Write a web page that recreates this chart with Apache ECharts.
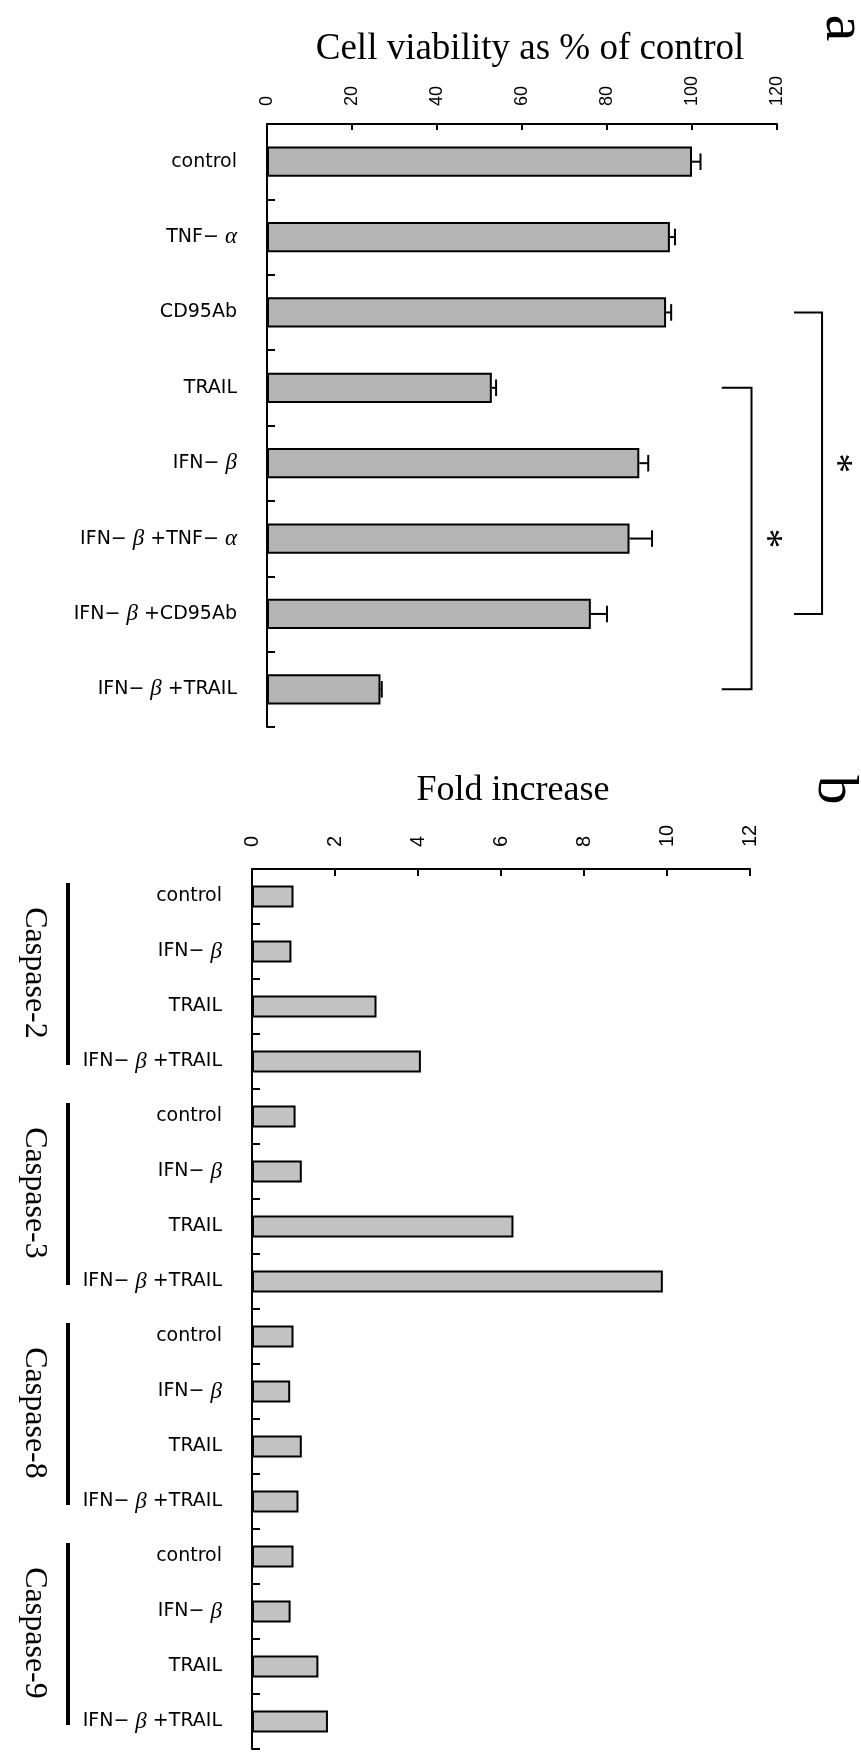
<!DOCTYPE html>
<html><head><meta charset="utf-8">
<script src="https://cdn.jsdelivr.net/npm/echarts@6/dist/echarts.min.js"></script>
<style>html,body{margin:0;padding:0;background:#fff}#c{width:861px;height:1757px}</style>
</head><body><div id="c"></div>
<script>
// ---- Panel a data ----
const aCategories = ['control', 'TNF− α', 'CD95Ab', 'TRAIL', 'IFN− β', 'IFN− β +TNF− α', 'IFN− β +CD95Ab', 'IFN− β +TRAIL'];
const aViability = [100, 94.8, 93.9, 52.9, 87.6, 85.3, 76.2, 26.7];
const aError = [2.0, 1.2, 1.2, 1.0, 2.1, 5.3, 3.8, 0.3];
const aTicks = [0, 20, 40, 60, 80, 100, 120];
// brackets: [x start, x end, first row, last row, star x]
const aBrackets = [[124, 130.6, 2, 6, 134], [107, 114, 3, 7, 117.5]];

// ---- Panel b data ----
const bCategories = ['control', 'IFN− β', 'TRAIL', 'IFN− β +TRAIL',
                     'control', 'IFN− β', 'TRAIL', 'IFN− β +TRAIL',
                     'control', 'IFN− β', 'TRAIL', 'IFN− β +TRAIL',
                     'control', 'IFN− β', 'TRAIL', 'IFN− β +TRAIL'];
const bFold = [1.0, 0.95, 3.0, 4.07,
               1.05, 1.2, 6.3, 9.9,
               1.0, 0.92, 1.2, 1.12,
               1.0, 0.93, 1.6, 1.83];
const bTicks = [0, 2, 4, 6, 8, 10, 12];
const bGroups = ['Caspase-2', 'Caspase-3', 'Caspase-8', 'Caspase-9'];
const bGroupRows = [[0, 3], [4, 7], [8, 11], [12, 15]];

const SANS = '"Liberation Sans", Arial, sans-serif';
const LABEL = '"DejaVu Sans", sans-serif';
const SERIF = '"Liberation Serif", "Times New Roman", serif';

function catFormatter(v) {
  return v.replace(/([αβ])/g, '{g|$1}');
}
const catLabel = {
  color: '#000', fontFamily: LABEL, fontSize: 19, margin: 30,
  formatter: catFormatter,
  rich: { g: { fontFamily: SERIF, fontStyle: 'italic', fontSize: 23, color: '#000' } }
};

function renderErr(params, api) {
  const v = api.value(0), c = api.value(1), e = api.value(2);
  const p1 = api.coord([v, c]);
  const p2 = api.coord([v + e, c]);
  const h = api.size([0, 1])[1] * 0.11;
  return { type: 'group', children: [
    { type: 'line', shape: { x1: p1[0], y1: p1[1], x2: p2[0], y2: p2[1] }, style: { stroke: '#000', lineWidth: 2 } },
    { type: 'line', shape: { x1: p2[0], y1: p2[1] - h, x2: p2[0], y2: p2[1] + h }, style: { stroke: '#000', lineWidth: 2 } }
  ]};
}

function renderBracket(params, api) {
  const x1 = api.value(0), x2 = api.value(1), r1 = api.value(2), r2 = api.value(3), sx = api.value(4);
  const a = api.coord([x1, r1]), b = api.coord([x2, r1]), c = api.coord([x2, r2]), d = api.coord([x1, r2]);
  const m = api.coord([sx, (r1 + r2) / 2]);
  return { type: 'group', children: [
    { type: 'polyline', shape: { points: [a, b, c, d] }, style: { stroke: '#000', lineWidth: 2, fill: null } },
    { type: 'text', x: m[0], y: m[1], rotation: -Math.PI / 2,
      style: { text: '*', fontFamily: SERIF, fontSize: 40, align: 'center', verticalAlign: 'middle', fill: '#000' } }
  ]};
}

function renderGroup(params, api) {
  const s = api.value(0), e = api.value(1);
  const pt = api.coord([0, s]), pb = api.coord([0, e]);
  const band = api.size([0, 1])[1];
  const x0 = pt[0];
  const y1 = pt[1] - band / 2 + 14, y2 = pb[1] + band / 2 - 24;
  return { type: 'group', children: [
    { type: 'line', shape: { x1: x0 - 184, y1: y1, x2: x0 - 184, y2: y2 }, style: { stroke: '#000', lineWidth: 4 } },
    { type: 'text', x: x0 - 218, y: (pt[1] + pb[1]) / 2 - 6, rotation: -Math.PI / 2,
      style: { text: bGroups[params.dataIndex], fontFamily: SERIF, fontSize: 32, align: 'center', verticalAlign: 'middle', fill: '#000' } }
  ]};
}

const axisLineStyle = { show: true, lineStyle: { color: '#000', width: 2 } };

const chart = echarts.init(document.getElementById('c'), null, { renderer: 'canvas' });
chart.setOption({
  backgroundColor: '#fff',
  animation: false,
  grid: [
    { left: 267, top: 124, width: 510, height: 603 },
    { left: 252, top: 869, width: 498, height: 880 }
  ],
  xAxis: [
    { gridIndex: 0, type: 'value', position: 'top', min: aTicks[0], max: aTicks[aTicks.length - 1], interval: aTicks[1] - aTicks[0],
      axisLine: axisLineStyle, axisTick: { show: true, inside: true, length: 6, lineStyle: { color: '#000', width: 2 } },
      splitLine: { show: false },
      axisLabel: { rotate: -90, margin: 18, color: '#000', fontFamily: SANS, fontSize: 18 } },
    { gridIndex: 1, type: 'value', position: 'top', min: bTicks[0], max: bTicks[bTicks.length - 1], interval: bTicks[1] - bTicks[0],
      axisLine: axisLineStyle, axisTick: { show: true, inside: true, length: 7, lineStyle: { color: '#000', width: 2 } },
      splitLine: { show: false },
      axisLabel: { rotate: -90, margin: 22, color: '#000', fontFamily: SANS, fontSize: 20 } }
  ],
  yAxis: [
    { gridIndex: 0, type: 'category', inverse: true, data: aCategories,
      axisLine: axisLineStyle, axisTick: { show: true, inside: true, length: 8, interval: 0, lineStyle: { color: '#000', width: 2 } },
      axisLabel: Object.assign({ interval: 0 }, catLabel) },
    { gridIndex: 1, type: 'category', inverse: true, data: bCategories,
      axisLine: axisLineStyle, axisTick: { show: true, inside: true, length: 8, interval: 0, lineStyle: { color: '#000', width: 2 } },
      axisLabel: Object.assign({ interval: 0 }, catLabel) }
  ],
  series: [
    { type: 'bar', xAxisIndex: 0, yAxisIndex: 0, data: aViability, barWidth: '40%',
      itemStyle: { color: '#b4b4b4', borderColor: '#000', borderWidth: 2 } },
    { type: 'custom', xAxisIndex: 0, yAxisIndex: 0, renderItem: renderErr, clip: false,
      encode: { x: 0, y: 1 },
      data: aViability.map((v, i) => [v, i, aError[i]]) },
    { type: 'custom', xAxisIndex: 0, yAxisIndex: 0, renderItem: renderBracket, clip: false,
      encode: { x: [0, 1, 4], y: [2, 3] }, data: aBrackets },
    { type: 'bar', xAxisIndex: 1, yAxisIndex: 1, data: bFold, barWidth: '40%',
      itemStyle: { color: '#c2c2c2', borderColor: '#000', borderWidth: 2 } },
    { type: 'custom', xAxisIndex: 1, yAxisIndex: 1, renderItem: renderGroup, clip: false,
      encode: { x: 0, y: [0, 1] }, data: bGroupRows.map(r => [r[0], r[1]]) }
  ],
  graphic: [
    { type: 'text', x: 530, y: 49, style: { text: 'Cell viability as % of control', fontFamily: SERIF, fontSize: 37, align: 'center', verticalAlign: 'middle', fill: '#000' } },
    { type: 'text', x: 843, y: 28, rotation: -Math.PI / 2, style: { text: 'a', fontFamily: SERIF, fontSize: 60, align: 'center', verticalAlign: 'middle', fill: '#000' } },
    { type: 'text', x: 513, y: 791, style: { text: 'Fold increase', fontFamily: SERIF, fontSize: 36, align: 'center', verticalAlign: 'middle', fill: '#000' } },
    { type: 'text', x: 834, y: 790, rotation: -Math.PI / 2, style: { text: 'b', fontFamily: SERIF, fontSize: 58, align: 'center', verticalAlign: 'middle', fill: '#000' } }
  ]
});
</script></body></html>
